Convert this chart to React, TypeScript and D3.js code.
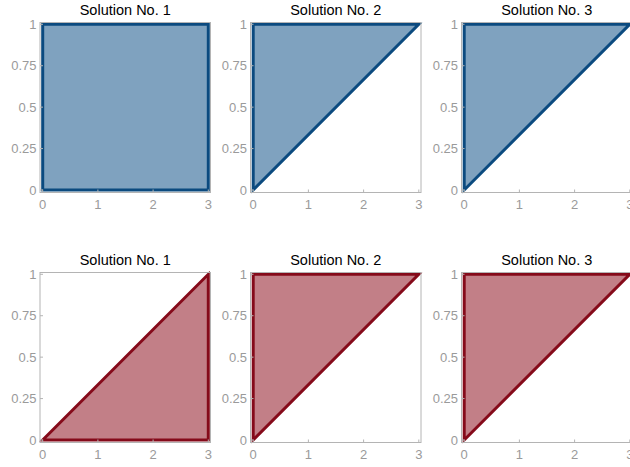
import React from 'react';
import * as d3 from 'd3';

const titles = ['Solution No. 1', 'Solution No. 2', 'Solution No. 3'];
const xTicks = [0, 1, 2, 3];
const yTicks = [0, 0.25, 0.5, 0.75, 1];
const yTickLabels = ['0', '0.25', '0.5', '0.75', '1'];

// region vertices per panel, [x, y]
const blueRegions: [number, number][][] = [
  [[0, 0], [3, 0], [3, 1], [0, 1]],
  [[0, 0], [3, 1], [0, 1]],
  [[0, 0], [3, 1], [0, 1]],
];
const redRegions: [number, number][][] = [
  [[0, 0], [3, 0], [3, 1]],
  [[0, 0], [3, 1], [0, 1]],
  [[0, 0], [3, 1], [0, 1]],
];

const rows = [
  { regions: blueRegions, fill: '#7fa2bf', stroke: '#0b4a7f' },
  { regions: redRegions, fill: '#c27f87', stroke: '#850a1a' },
];

const frameLefts = [40, 250.5, 461.5];
const frameTops = [22.5, 272.5];
const frameW = 170.5;
const frameH = 170;
const font = 'Liberation Sans, Arial, sans-serif';

const Panel = ({ left, top, title, pts, fill, stroke }: any) => {
  const x = d3.scaleLinear().domain([0, 3]).range([left + 2.7, left + frameW - 2.2]);
  const y = d3.scaleLinear().domain([0, 1]).range([top + frameH - 2.5, top + 1.8]);
  const line = d3.line<[number, number]>().x(d => x(d[0])).y(d => y(d[1])).curve(d3.curveLinearClosed);
  return (
    <g>
      <text x={left + frameW / 2} y={top - 7.5} textAnchor="middle" fontSize={14.5}
        fontFamily={font} fill="#000">{title}</text>
      <path d={line(pts) || ''} fill={fill} stroke={stroke} strokeWidth={3} strokeLinejoin="miter" />
      <rect x={left} y={top} width={frameW} height={frameH} fill="none" stroke="#b4b4b4" strokeWidth={1} />
      {xTicks.map(t => (
        <g key={'x' + t}>
          <line x1={x(t)} x2={x(t)} y1={top + frameH} y2={top + frameH - 3} stroke="#b4b4b4" />
          <text x={x(t)} y={top + frameH + 16} textAnchor="middle" fontSize={13}
            fontFamily={font} fill="#9a9a9a">{t}</text>
        </g>
      ))}
      {yTicks.map((t, i) => (
        <g key={'y' + t}>
          <line x1={left} x2={left + 3} y1={y(t)} y2={y(t)} stroke="#b4b4b4" />
          <text x={left - 3.5} y={y(t) + 4.5} textAnchor="end" fontSize={13}
            fontFamily={font} fill="#9a9a9a">{yTickLabels[i]}</text>
        </g>
      ))}
    </g>
  );
};

export default function App() {
  return (
    <svg width={630} height={467} style={{ position: 'absolute', left: 0, top: 0, background: '#fff' }}>
      {rows.map((row, r) =>
        row.regions.map((pts, c) => (
          <Panel key={r + '-' + c} left={frameLefts[c]} top={frameTops[r]} title={titles[c]}
            pts={pts} fill={row.fill} stroke={row.stroke} />
        ))
      )}
    </svg>
  );
}
